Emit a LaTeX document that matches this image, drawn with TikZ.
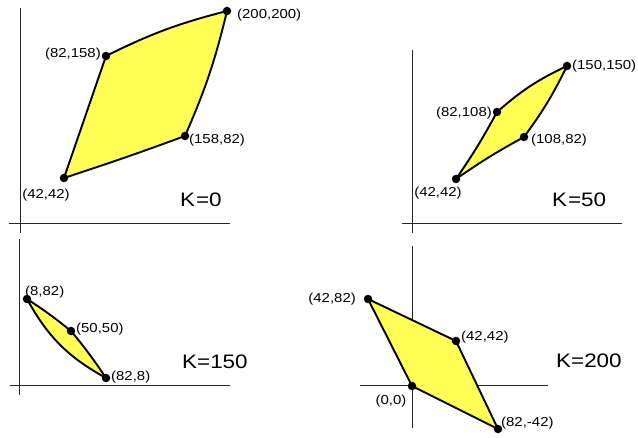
\documentclass[tikz,border=0pt]{standalone}
\usepackage{fontspec}
\setmainfont{Liberation Sans}
\newfontfamily\wfont[FakeStretch=1.15]{Liberation Sans}
\definecolor{yel}{RGB}{255,255,85}
\begin{document}
\begin{tikzpicture}[x=1pt,y=-1pt,
  dot/.style={circle,fill=black,inner sep=0pt,minimum size=8.5pt},
  lab/.style={inner sep=0pt,font=\wfont\fontsize{13}{15}\selectfont},
  klab/.style={inner sep=0pt,font=\wfont\fontsize{19.5}{22}\selectfont},
  axis/.style={line width=0.9pt,black!85},
  quad/.style={fill=yel,draw=black,line width=1.9pt,line join=round}]
\useasboundingbox (0,0) rectangle (638,438);
% axes
\draw[axis] (20,8) -- (20,233);
\draw[axis] (9,223) -- (230,223);
\draw[axis] (412,50) -- (412,233);
\draw[axis] (402,223) -- (622,223);
\draw[axis] (19,239) -- (19,395);
\draw[axis] (10,385) -- (230,385);
\draw[axis] (412,246) -- (412,428);
\draw[axis] (360,385) -- (548,385);
% panel 1
\coordinate (a1) at (64,178);
\coordinate (b1) at (106,56);
\coordinate (c1) at (227,11);
\coordinate (d1) at (185,136);
\draw[quad] (a1) -- (b1) to[bend left=6] (c1) to[bend left=5] (d1) to[bend left=1] (a1) -- cycle;
\foreach \p in {a1,b1,c1,d1} \node[dot] (n\p) at (\p) {};
\node[lab,anchor=west] (l1c) at (237,15) {(200,200)};
\node[lab,anchor=east] (l1b) at (101,54) {(82,158)};
\node[lab,anchor=west] (l1d) at (189,140) {(158,82)};
\node[lab] (l1a) at (46,195) {(42,42)};
\node[klab,anchor=west] (k1) at (180,200) {K\kern1pt=0};
% panel 2
\coordinate (a2) at (456,179);
\coordinate (b2) at (497,112);
\coordinate (c2) at (567,66);
\coordinate (d2) at (524,137);
\draw[quad] (a2) to[bend right=3] (b2) to[bend left=8] (c2) to[bend left=5] (d2) to[bend right=3] (a2) -- cycle;
\foreach \p in {a2,b2,c2,d2} \node[dot] (n\p) at (\p) {};
\node[lab,anchor=west] (l2c) at (572,66) {(150,150)};
\node[lab,anchor=east] (l2b) at (492,113) {(82,108)};
\node[lab,anchor=west] (l2d) at (531,140) {(108,82)};
\node[lab] (l2a) at (438,193) {(42,42)};
\node[klab,anchor=west] (k2) at (552,200) {K\kern1pt=50};
% panel 3
\coordinate (a3) at (27,299);
\coordinate (b3) at (71,331);
\coordinate (c3) at (106,378);
\draw[quad] (a3) to[bend left=3] (b3) to[bend left=3] (c3) to[bend left=16] (a3) -- cycle;
\foreach \p in {a3,b3,c3} \node[dot] (n\p) at (\p) {};
\node[lab,anchor=west] (l3a) at (25,292) {(8,82)};
\node[lab,anchor=west] (l3b) at (76,329) {(50,50)};
\node[lab,anchor=west] (l3c) at (111,377) {(82,8)};
\node[klab,anchor=west] (k3) at (182,362) {K=150};
% panel 4
\coordinate (a4) at (368,299);
\coordinate (b4) at (456,341);
\coordinate (c4) at (498,429);
\coordinate (d4) at (412,386);
\draw[quad] (a4) -- (b4) -- (c4) -- (d4) -- cycle;
\foreach \p in {a4,b4,c4,d4} \node[dot] (n\p) at (\p) {};
\node[lab,anchor=east] (l4a) at (356,299) {(42,82)};
\node[lab,anchor=west] (l4b) at (461,337) {(42,42)};
\node[lab] (l4d) at (391,401) {(0,0)};
\node[lab,anchor=west] (l4c) at (501,423) {(82,-42)};
\node[klab,anchor=west] (k4) at (556,361) {K=200};
\end{tikzpicture}
\end{document}
